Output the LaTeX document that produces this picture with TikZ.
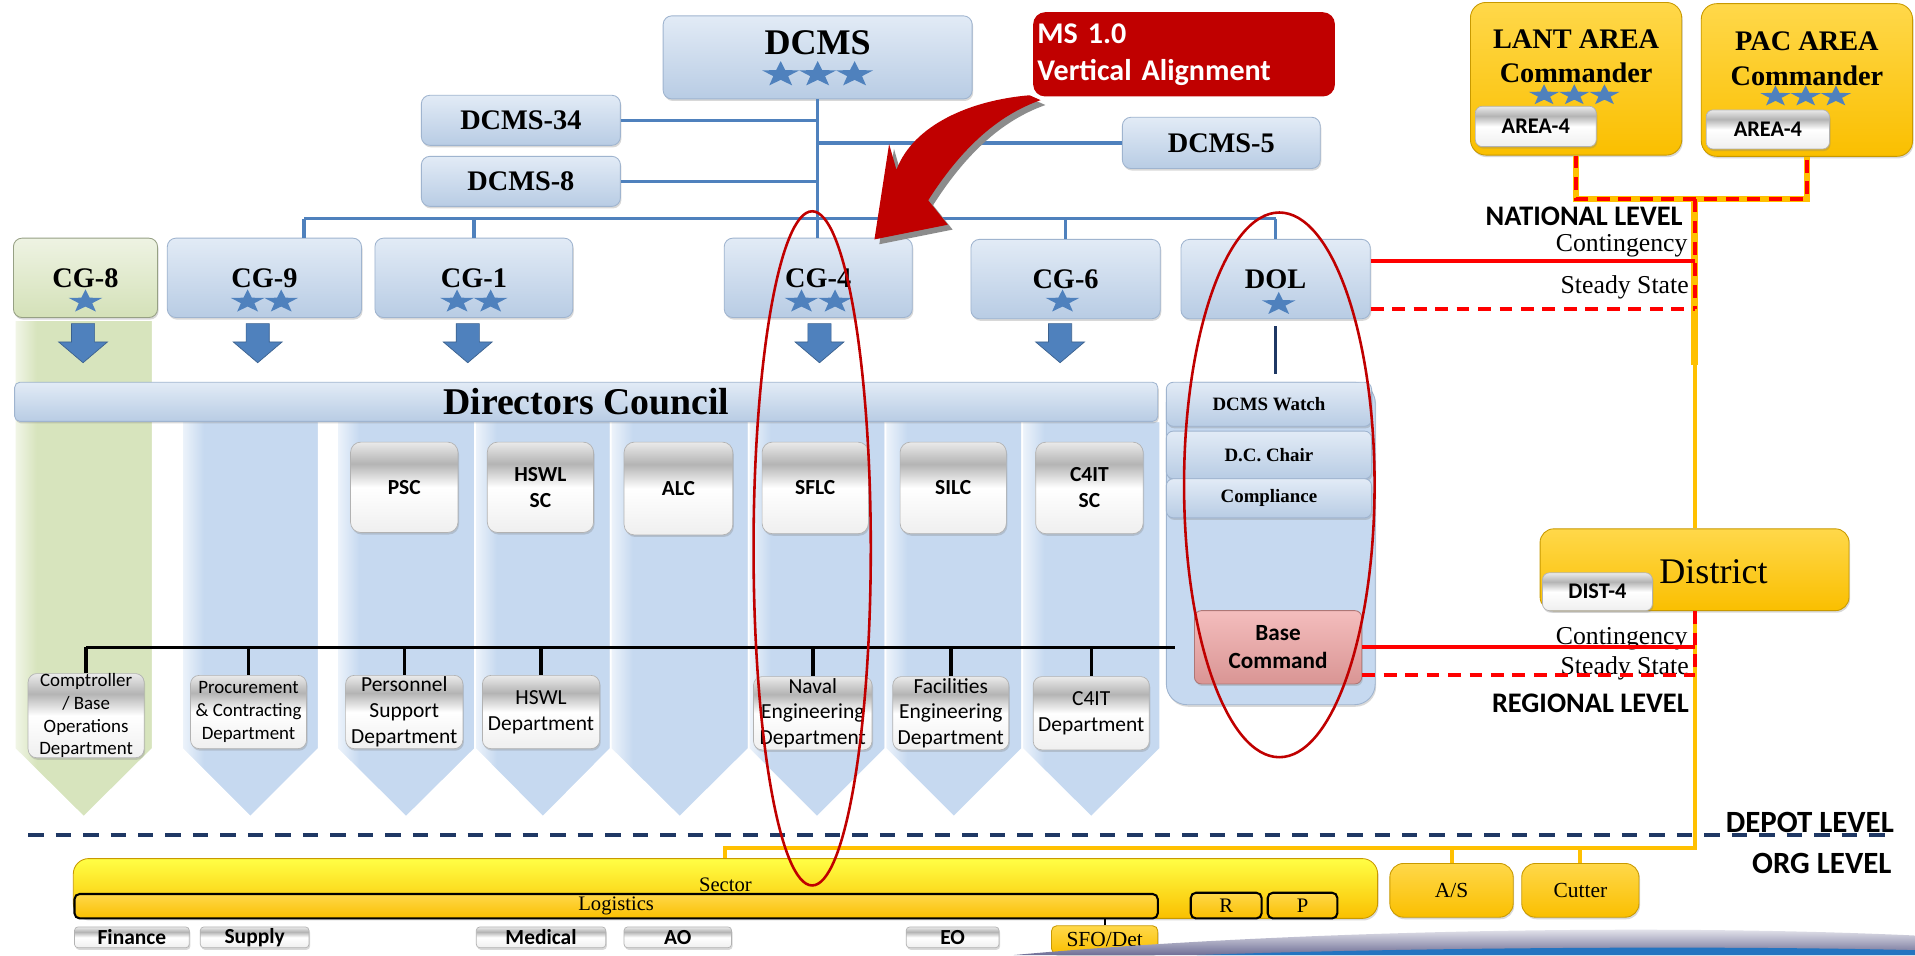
\documentclass[tikz,border=0pt]{standalone}
\usepackage{fontspec}
\setmainfont{Liberation Serif}
\newfontfamily\calfont{Carlito}
\usetikzlibrary{calc,shadows}

\definecolor{btop}{HTML}{E2EBF6}
\definecolor{bbot}{HTML}{B8CCE4}
\definecolor{bedge}{HTML}{9FB4CF}
\definecolor{colbl}{HTML}{C6D9F0}
\definecolor{colhi}{HTML}{EEF4FB}
\definecolor{grn}{HTML}{D7E4BD}
\definecolor{grhi}{HTML}{F2F6E8}
\definecolor{gtopc}{HTML}{EEF3E3}
\definecolor{gbotc}{HTML}{D4E1B8}
\definecolor{linblue}{HTML}{4F81BD}
\definecolor{starblue}{HTML}{4F81BD}
\definecolor{arrblue}{HTML}{4F81BD}
\definecolor{msred}{HTML}{C00000}
\definecolor{ellred}{HTML}{C00000}
\definecolor{lvred}{HTML}{FF0000}
\definecolor{goldtop}{HTML}{FFD84A}
\definecolor{goldbot}{HTML}{FABF00}
\definecolor{goldln}{HTML}{FFC000}
\definecolor{yeltop}{HTML}{FFFF45}
\definecolor{navyc}{HTML}{1F3864}
\definecolor{pinktop}{HTML}{F4BDBD}
\definecolor{pinkbot}{HTML}{D99594}
\definecolor{svhi}{HTML}{EAEAEA}
\definecolor{svdk}{HTML}{B4B4B4}
\definecolor{svlo}{HTML}{EFEFEF}
\definecolor{swgray}{HTML}{6E6E96}
\definecolor{swblue}{HTML}{2474C0}

\pgfdeclareverticalshading{silv}{100bp}{color(0bp)=(svlo); color(25bp)=(svlo); color(50bp)=(white); color(63bp)=(svdk); color(75bp)=(svhi); color(100bp)=(svhi)}
\pgfdeclarehorizontalshading{colsh}{100bp}{color(0bp)=(colhi); color(25bp)=(colhi); color(33bp)=(colbl); color(100bp)=(colbl)}
\pgfdeclarehorizontalshading{grnsh}{100bp}{color(0bp)=(grhi); color(25bp)=(grhi); color(33bp)=(grn); color(100bp)=(grn)}

\newcommand{\fs}[2]{\fontsize{#1pt}{#2pt}\selectfont}
% box between two corners of the slide (name, x1, y1, x2, y2, style, text)
\newcommand{\bx}[7]{\node[#6, minimum width={(#4-#2)*0.025cm}, minimum height={(#5-#3)*0.025cm}] (#1) at ({(#2+#4)/2},{(#3+#5)/2}) {#7};}
% row of stars (count, x, y, radius)
\newcommand{\starrow}[4]{\foreach \s in {1,...,#1}{\fill[starblue, shift={({#2+(\s-(#1+1)/2)*2.75*#4},#3)}, xscale=1.45] (-90:#4) \foreach \k in {1,...,9}{ -- ({-90+36*\k}:{#4*(1-0.6*mod(\k,2))}) } -- cycle;}}
% blue block arrow under a CG box
\newcommand{\downarr}[1]{\fill[arrblue, draw=arrblue!75!black, line width=0.4pt] ({#1-9.5},265) -- ({#1+9.5},265) -- ({#1+9.5},280) -- ({#1+20},280) -- (#1,297) -- ({#1-20},280) -- ({#1-9.5},280) -- cycle;}
% column with pointed bottom (x1, x2, top, shading)
\newcommand{\deptcol}[4]{\shade[shading=#4, draw=white, line width=1pt] (#1,#3) -- (#2,#3) -- (#2,613) -- ({(#1+#2)/2},669) -- (#1,613) -- cycle;}

\begin{document}
\begin{tikzpicture}[x=0.025cm, y=-0.025cm,
  shad/.style={drop shadow={shadow xshift=0.6pt, shadow yshift=-1.2pt, opacity=0.3}},
  bluebox/.style={shad, draw=bedge, line width=0.5pt, rounded corners=5pt, top color=btop, bottom color=bbot, inner sep=0pt},
  greenbox/.style={bluebox, top color=gtopc, bottom color=gbotc, draw=grn!70!black},
  cgfont/.style={font=\bfseries\fs{16.5}{19}},
  stackbox/.style={bluebox, rounded corners=4pt, font=\bfseries\fs{11}{13}},
  scbox/.style={shad, draw=black!30, line width=0.4pt, rounded corners=6pt, shading=silv, inner sep=0pt, align=center, font=\calfont\bfseries\fs{12.5}{15}},
  deptbox/.style={scbox, rounded corners=5pt, font=\calfont\fs{12.5}{15}},
  tagbox/.style={scbox, rounded corners=2pt, font=\calfont\bfseries\fs{12.5}{14}},
  goldbox/.style={shad, draw=goldbot!80!black, line width=0.5pt, rounded corners=8pt, top color=goldtop, bottom color=goldbot, inner sep=0pt, font=\fs{12.5}{15}},
  sectorbox/.style={goldbox, top color=yeltop, rounded corners=9pt},
  pinkbox/.style={shad, draw=pinkbot!80!black, line width=0.5pt, rounded corners=4pt, top color=pinktop, bottom color=pinkbot, inner sep=0pt, align=center, font=\calfont\bfseries\fs{13.5}{16.5}},
  logbox/.style={draw=black, line width=1.2pt, rounded corners=3pt, top color=goldtop, bottom color=goldbot, inner sep=0pt, font=\fs{12}{14}},
  msbox/.style={fill=msred, rounded corners=7pt, text=white, align=left, font=\calfont\bfseries\fs{17.5}{21.7}},
  areatext/.style={inner sep=0pt, align=center, font=\bfseries\fs{16.5}{20}},
  lvl/.style={inner sep=0pt, anchor=base east, font=\calfont\bfseries\fs{16.5}{19}},
  lvlb/.style={lvl, font=\calfont\bfseries\fs{18}{21}},
  cont/.style={inner sep=0pt, anchor=base east, font=\fs{15}{17}},
  bline/.style={draw=linblue, line width=2pt},
  blk/.style={draw=black, line width=2pt},
  redsolid/.style={draw=lvred, line width=2.3pt},
  reddash/.style={draw=lvred, line width=2.3pt, dash pattern=on 7.5pt off 5pt},
  goldthick/.style={draw=goldln, line width=3.9pt},
  goldthin/.style={draw=goldln, line width=2.3pt},
  navydash/.style={draw=navyc, line width=2.3pt, dash pattern=on 9pt off 7pt},
  ring/.style={draw=ellred, line width=1.5pt}
]
\fill[white] (0,0) rectangle (1568,782);
\useasboundingbox (0,0) rectangle (1568,782);

%%%%% columns %%%%%
\deptcol{12}{125}{262}{grnsh}
\deptcol{149}{261}{345}{colsh}
\deptcol{276}{389}{345}{colsh}
\deptcol{389}{500}{345}{colsh}
\deptcol{500}{613}{345}{colsh}
\deptcol{613}{725}{345}{colsh}
\deptcol{725}{837}{345}{colsh}
\deptcol{837}{950}{345}{colsh}
\bx{dolpanel}{955}{313}{1126}{577}{shad, fill=colbl, draw=bedge, line width=0.5pt, rounded corners=12pt}{}

%%%%% top %%%%%
\bx{dcms}{543}{13}{796}{81}{bluebox}{}
\node[inner sep=0pt, anchor=base, font=\bfseries\fs{21}{24}] (dcmsT) at (669.5,45) {DCMS};
\starrow{3}{669.5}{61}{11}
\bx{dcmsA}{345}{78}{508}{119}{bluebox, cgfont}{DCMS-34}
\bx{dcmsB}{345}{128}{508}{169}{bluebox, cgfont}{DCMS-8}
\bx{dcmsC}{919}{96}{1081}{138}{bluebox, cgfont}{DCMS-5}
\node[msbox, minimum width=6.175cm, minimum height=1.725cm, text width=6cm, inner xsep=0.0875cm] (ms) at (969.5,44.5) {MS 1.0\\Vertical Alignment};

\bx{cg8}{11}{195}{129}{260}{greenbox, cgfont}{CG-8}
\bx{cg9}{137}{195}{296}{260}{bluebox, cgfont}{CG-9}
\bx{cg1}{307}{195}{469}{260}{bluebox, cgfont}{CG-1}
\bx{cg4}{593}{195}{747}{260}{bluebox, cgfont}{CG-4}
\bx{cg6}{795}{196}{950}{261}{bluebox, cgfont}{CG-6}
\bx{dol}{967}{196}{1122}{261}{bluebox, cgfont}{DOL}
\starrow{1}{70}{247}{10}
\starrow{2}{216.5}{247}{10}
\starrow{2}{388}{247}{10}
\starrow{2}{670}{247}{10}
\starrow{1}{870}{247}{10}
\starrow{1}{1047}{249}{10}

\coordinate (busL) at (249,179);
\coordinate (busR) at (1044.5,179);
\draw[bline] (dcmsA.east) -- (dcmsA.east -| dcms.south);
\draw[bline] (dcmsB.east) -- (dcmsB.east -| dcms.south);
\draw[bline] (dcmsC.west) -- (dcmsC.west -| dcms.south);
\draw[bline] (dcms.south) -- (dcms.south |- cg4.north);
\draw[bline] (busL) -- (busR);
\draw[bline] (busL) -- (busL |- cg9.north);
\draw[bline] (cg1.north |- busL) -- (cg1.north);
\draw[bline] (cg6.north |- busL) -- (cg6.north);
\draw[bline] (busR) -- (dol.north);

\downarr{68}
\downarr{211}
\downarr{383}
\downarr{671}
\downarr{868}

%%%%% council and DOL stack %%%%%
\bx{council}{12}{313}{948}{345}{bluebox, rounded corners=3pt, font=\bfseries\fs{22}{24}}{Directors Council}
\bx{dcmsw}{955}{313}{1123}{349}{stackbox}{DCMS Watch}
\bx{dcchair}{955}{353}{1123}{392}{stackbox}{D.C. Chair}
\bx{compl}{955}{392}{1123}{424}{stackbox}{Compliance}
\bx{basecmd}{978}{500}{1115}{560}{pinkbox}{Base\\Command}
\draw[draw=navyc, line width=1.4pt] ([yshift=-4pt]dol.south) -- ++(0,39);

\bx{psc}{287}{362}{375}{436}{scbox}{PSC}
\bx{hswlsc}{399}{362}{486}{436}{scbox}{HSWL\\SC}
\bx{alc}{511}{362}{600}{438}{scbox}{ALC}
\bx{sflc}{624}{362}{711}{437}{scbox}{SFLC}
\bx{silc}{737}{362}{824}{437}{scbox}{SILC}
\bx{citsc}{848}{362}{936}{437}{scbox}{C4IT\\SC}

%%%%% departments %%%%%
\bx{comp}{23}{554}{118}{618}{deptbox, font=\calfont\fs{11}{13.2}}{Comptroller\\/ Base\\Operations\\Department}
\bx{proc}{156}{553}{251}{613}{deptbox, font=\calfont\fs{11}{13.2}}{Procurement\\\& Contracting\\Department}
\bx{pers}{283}{553}{379}{613}{deptbox}{Personnel\\Support\\Department}
\bx{hswl}{395}{553}{491}{613}{deptbox}{HSWL\\Department}
\bx{naval}{617}{554}{714}{614}{deptbox}{Naval\\Engineering\\Department}
\bx{facil}{731}{554}{826}{614}{deptbox}{Facilities\\Engineering\\Department}
\bx{cit}{846}{554}{941}{614}{deptbox}{C4IT\\Department}
\coordinate (blkL) at (70.5,530);
\coordinate (blkR) at (962,530);
\draw[blk] (blkL) -- (blkR);
\foreach \d in {comp,proc,pers,hswl,naval,facil,cit}
  \draw[blk] (\d.north |- blkL) -- (\d.north);

%%%%% areas and district %%%%%
\bx{lant}{1204}{2}{1377}{127}{goldbox, rounded corners=9pt}{}
\node[areatext] (lantT) at (1290.5,46) {LANT AREA\\Commander};
\starrow{3}{1289}{78}{9}
\bx{lantA}{1208}{87}{1307}{120}{tagbox, rounded corners=4pt, font=\calfont\bfseries\fs{13}{15}}{AREA-4}
\bx{pac}{1393}{3}{1566}{128}{goldbox, rounded corners=9pt}{}
\node[areatext] (pacT) at (1479.5,48) {PAC AREA\\Commander};
\starrow{3}{1478.5}{79}{9}
\bx{pacA}{1397}{90}{1498}{122}{tagbox, rounded corners=4pt, font=\calfont\bfseries\fs{13}{15}}{AREA-4}

\bx{dist}{1261}{433}{1514}{500}{goldbox}{}
\node[inner sep=0pt, anchor=base, font=\fs{21}{24}] (distT) at (1403,478) {District};
\bx{distA}{1263}{469}{1353}{500}{tagbox, rounded corners=4pt, font=\calfont\bfseries\fs{13}{15}}{DIST-4}

\node[lvl] (natL) at (1378,185) {NATIONAL LEVEL};
\node[cont] (natCt) at (1382,206) {Contingency};
\node[cont] (natSt) at (1383,240) {Steady State};
\node[cont] (regCt) at (1382,528) {Contingency};
\node[cont] (regSt) at (1383,552) {Steady State};
\node[lvl] (regL) at (1383,583) {REGIONAL LEVEL};
\node[lvlb] (depotL) at (1551,682) {DEPOT LEVEL};
\node[lvlb] (orgL) at (1549,715) {ORG LEVEL};

%%%%% org level %%%%%
\bx{sector}{60}{703}{1128}{752}{sectorbox}{}
\node[inner sep=0pt, anchor=base, font=\fs{12}{14}] (sectorT) at (594,730) {Sector};
\bx{logi}{61}{732}{948}{752}{logbox}{Logistics}
\bx{rbox}{975}{731}{1033}{752}{logbox}{R}
\bx{pbox}{1038}{731}{1095}{752}{logbox}{P}
\bx{asb}{1138}{707}{1239}{751}{goldbox}{A/S}
\bx{cutter}{1246}{707}{1342}{751}{goldbox}{Cutter}
\bx{fin}{61}{759}{155}{776}{tagbox}{Finance}
\bx{sup}{164}{759}{253}{776}{tagbox}{Supply}
\bx{med}{390}{759}{496}{776}{tagbox}{Medical}
\bx{ao}{511}{759}{599}{776}{tagbox}{AO}
\bx{eo}{742}{759}{818}{776}{tagbox}{EO}
\bx{sfo}{861}{758}{948}{781}{goldbox, rounded corners=3pt}{SFO/Det}
\draw[black, line width=1pt] (sfo.north) -- (sfo.north |- logi.south);

%%%%% level lines %%%%%
\coordinate (natJ) at (1387.5,163);
\coordinate (natE) at (1387.5,299);
\coordinate (natC) at (1387.5,214);
\coordinate (natS) at (1387.5,253);
\draw[goldthick] (lant.south) |- (natJ) -| (pac.south);
\draw[goldthick] (natJ) -- (natE);
\draw[goldthin] (natE) -- (dist.north);
\draw[reddash] (lant.south) |- (natJ) -| (pac.south);
\draw[reddash] (natJ) -- (natS);
\draw[redsolid] (dol.east |- natC) -- (natC);
\draw[reddash] (dol.east |- natS) -- (natS);

\coordinate (regC) at (dist.south |- basecmd.east);
\coordinate (regS) at (1387.5,553);
\coordinate (orgJ) at (1387.5,694);
\draw[goldthin] (dist.south) -- (orgJ) -| (sector.north);
\draw[goldthin] (asb.north) -- (asb.north |- orgJ);
\draw[goldthin] (cutter.north) -- (cutter.north |- orgJ);
\draw[redsolid] (basecmd.east) -- (regC);
\draw[reddash] (basecmd.east |- regS) -- (regS);
\draw[reddash] (dist.south) -- (regS);

\coordinate (depL) at (23,684);
\coordinate (depR) at (1549,684);
\draw[navydash] (depL) -- (depR);

%%%%% swoosh %%%%%
\shade[top color=white, bottom color=swgray] (830,782) .. controls (1050,762) and (1350,756) .. (1568,766) -- (1568,782) -- cycle;
\fill[swblue] (980,782) .. controls (1150,776) and (1400,774) .. (1568,778) -- (1568,782) -- cycle;

%%%%% highlights %%%%%
\draw[ring] (665,449) ellipse [x radius=48, y radius=276];
\draw[ring] (1047.5,397) ellipse [x radius=78, y radius=223];
\fill[black!45, shift={(4,4)}] (843,78) .. controls (795,82) and (748,102) .. (734,139) -- (728,118) -- (716,196) -- (776,184) -- (760,164) .. controls (788,120) and (818,94) .. (852,82) -- cycle;
\fill[msred] (843,78) .. controls (795,82) and (748,102) .. (734,139) -- (728,118) -- (716,196) -- (776,184) -- (760,164) .. controls (788,120) and (818,94) .. (852,82) -- cycle;
\end{tikzpicture}
\end{document}
